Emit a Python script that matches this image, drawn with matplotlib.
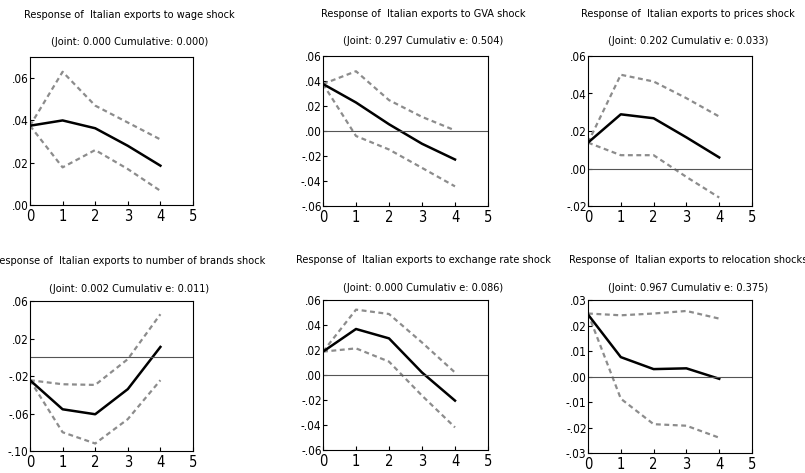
import matplotlib
matplotlib.use("Agg")
import matplotlib.pyplot as plt
from matplotlib import font_manager
from matplotlib.ticker import FuncFormatter

# the original uses an Arial Narrow-like face; pick a condensed face if one is installed
narrow = [f.name for f in font_manager.fontManager.ttflist
          if 'Narrow' in f.name or 'Condensed' in f.name or f.stretch in ('condensed', 'semi-condensed')]
plt.rcParams['font.family'] = narrow[:1] + ['Liberation Sans', 'DejaVu Sans']
plt.rcParams['font.stretch'] = 'condensed'

steps = [0, 1, 2, 3, 4]

titles = [
    "Response of  Italian exports to wage shock",
    "Response of  Italian exports to GVA shock",
    "Response of  Italian exports to prices shock",
    "Response of  Italian exports to number of brands shock",
    "Response of  Italian exports to exchange rate shock",
    "Response of  Italian exports to relocation shocks",
]
subtitles = [
    "(Joint: 0.000 Cumulative: 0.000)",
    "(Joint: 0.297 Cumulativ e: 0.504)",
    "(Joint: 0.202 Cumulativ e: 0.033)",
    "(Joint: 0.002 Cumulativ e: 0.011)",
    "(Joint: 0.000 Cumulativ e: 0.086)",
    "(Joint: 0.967 Cumulativ e: 0.375)",
]

wage = [0.0375, 0.040, 0.0363, 0.028, 0.0186]
wage_hi = [0.0375, 0.063, 0.047, 0.039, 0.031]
wage_lo = [0.0375, 0.0178, 0.026, 0.017, 0.0067]

gva = [0.0376, 0.0228, 0.0054, -0.0102, -0.0228]
gva_hi = [0.0376, 0.0478, 0.0247, 0.0113, 0.0005]
gva_lo = [0.0376, -0.004, -0.0148, -0.0295, -0.0443]

prices = [0.0138, 0.0289, 0.0268, 0.0166, 0.0059]
prices_hi = [0.0138, 0.050, 0.0464, 0.0375, 0.0277]
prices_lo = [0.0138, 0.0071, 0.0071, -0.0045, -0.0155]

brands = [-0.0245, -0.0555, -0.0608, -0.034, 0.011]
brands_hi = [-0.0245, -0.0288, -0.0295, -0.002, 0.0459]
brands_lo = [-0.0245, -0.080, -0.092, -0.066, -0.0245]

exch = [0.0187, 0.0368, 0.0293, 0.002, -0.0205]
exch_hi = [0.0187, 0.0523, 0.0488, 0.026, 0.002]
exch_lo = [0.0187, 0.0213, 0.0107, -0.0165, -0.0419]

reloc = [0.0243, 0.0076, 0.0029, 0.0032, -0.0009]
reloc_hi = [0.0247, 0.024, 0.0247, 0.0257, 0.0227]
reloc_lo = [0.0247, -0.0087, -0.0187, -0.0193, -0.024]

series = [(wage, wage_hi, wage_lo), (gva, gva_hi, gva_lo), (prices, prices_hi, prices_lo),
          (brands, brands_hi, brands_lo), (exch, exch_hi, exch_lo), (reloc, reloc_hi, reloc_lo)]
ylims = [(0, 0.07), (-0.06, 0.06), (-0.02, 0.06), (-0.10, 0.06), (-0.06, 0.06), (-0.03, 0.03)]
yticks = [[0, 0.02, 0.04, 0.06],
          [-0.06, -0.04, -0.02, 0, 0.02, 0.04, 0.06],
          [-0.02, 0, 0.02, 0.04, 0.06],
          [-0.10, -0.06, -0.02, 0.02, 0.06],
          [-0.06, -0.04, -0.02, 0, 0.02, 0.04, 0.06],
          [-0.03, -0.02, -0.01, 0, 0.01, 0.02, 0.03]]

W, H = 805, 473
# axes boxes in pixels: left, top, right, bottom
boxes = [(30, 57, 193, 205), (323, 56, 488, 206), (588, 56, 752, 206),
         (30, 301, 193, 451), (323, 300, 488, 450), (588, 300, 752, 453)]


def fmt(v, pos):
    s = "%.2f" % v
    if s.startswith("-0"):
        return "-" + s[2:]
    if s.startswith("0"):
        return s[1:]
    return s


fig = plt.figure(figsize=(W / 100, H / 100), dpi=100)
for i in range(6):
    l, t, r, b = boxes[i]
    ax = fig.add_axes([l / W, 1 - b / H, (r - l) / W, (b - t) / H])
    mid, hi, lo = series[i]
    ax.plot(steps, hi, color='#8c8c8c', lw=1.6, ls=(0, (2.2, 1.6)))
    ax.plot(steps, lo, color='#8c8c8c', lw=1.6, ls=(0, (2.2, 1.6)))
    ax.plot(steps, mid, color='black', lw=1.8)
    lo_y, hi_y = ylims[i]
    if lo_y < 0:
        ax.axhline(0, color='#555555', lw=0.8)
    ax.set_xlim(0, 5)
    ax.set_ylim(lo_y, hi_y)
    ax.set_xticks([0, 1, 2, 3, 4, 5])
    ax.set_yticks(yticks[i])
    ax.yaxis.set_major_formatter(FuncFormatter(fmt))
    ax.tick_params(axis='x', labelsize=10.5, direction='in', length=3, pad=3)
    ax.tick_params(axis='y', labelsize=8.5, direction='in', length=3, pad=1)
    for sp in ax.spines.values():
        sp.set_linewidth(0.8)
    cx = (l + r) / 2 + 18
    fig.text(cx / W, 1 - (t - 42 if i < 3 else t - 40) / H, titles[i], ha='center', va='center', fontsize=7.8)
    fig.text(cx / W, 1 - (t - 15 if i < 3 else t - 12) / H, subtitles[i], ha='center', va='center', fontsize=7.8)

fig.savefig("out.png", dpi=100)
